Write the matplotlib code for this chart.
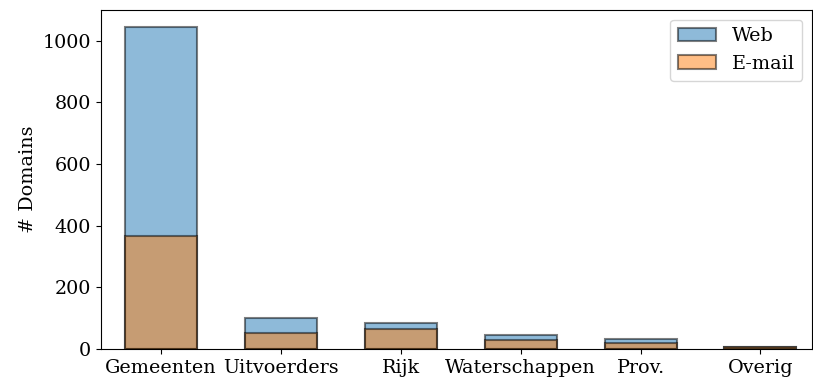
import matplotlib.pyplot as plt
import numpy as np

plt.rcParams["font.family"] = "DejaVu Serif"
plt.rcParams["font.size"] = 13.8

categories = ["Gemeenten", "Uitvoerders", "Rijk", "Waterschappen", "Prov.", "Overig"]
web = [1045, 99, 85, 47, 31, 7]
email = [367, 51, 65, 30, 20, 6]

fig = plt.figure(figsize=(8.13, 3.83), dpi=100)
ax = fig.add_axes([101 / 813, 1 - 349 / 383, 711 / 813, 339 / 383])

x = np.arange(len(categories))
ax.bar(x, web, width=0.6, color="C0", alpha=0.5, edgecolor="black", linewidth=1.5, label="Web")
ax.bar(x, email, width=0.6, color="C1", alpha=0.5, edgecolor="black", linewidth=1.5, label="E-mail")

ax.set_xticks(x)
ax.set_xticklabels(categories)
ax.set_xlim(-0.5, 5.43)
ax.set_ylim(0, 1100)
ax.set_ylabel("# Domains")
ax.legend(loc="upper right")

fig.savefig("out.png", dpi=100)
